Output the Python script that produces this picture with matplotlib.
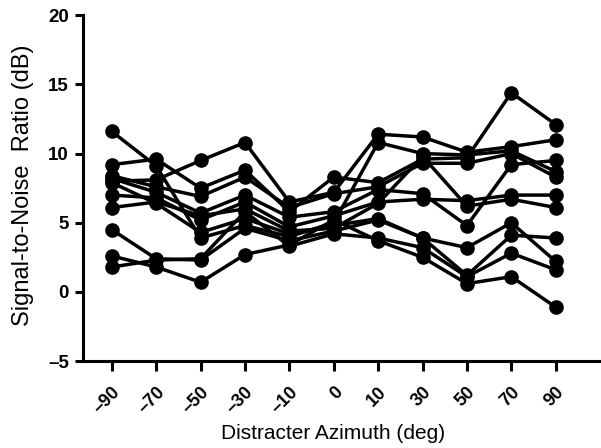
import matplotlib
matplotlib.use("Agg")
import matplotlib.pyplot as plt

azimuth_labels = ['–90', '–70', '–50', '–30', '–10', '0', '10', '30', '50', '70', '90']
y_ticks = [-5, 0, 5, 10, 15, 20]
y_tick_labels = ['–5', '0', '5', '10', '15', '20']

s1 = [8.0, 8.1, 9.5, 10.8, 6.5, 7.2, 11.4, 11.2, 10.1, 10.5, 11.0]
s2 = [11.6, 9.1, 3.9, 4.8, 4.0, 5.0, 10.8, 10.0, 9.9, 10.2, 8.7]
s3 = [9.2, 9.6, 7.5, 8.8, 5.8, 8.3, 7.9, 9.6, 9.7, 14.4, 12.1]
s4 = [8.4, 7.6, 6.9, 8.3, 6.1, 7.1, 7.6, 9.3, 9.3, 10.0, 8.3]
s5 = [8.2, 7.2, 5.7, 7.0, 5.4, 5.8, 7.4, 7.1, 4.8, 9.2, 9.5]
s6 = [7.0, 6.8, 5.2, 6.5, 4.7, 5.5, 6.5, 6.7, 6.6, 7.0, 7.0]
s7 = [6.1, 6.5, 5.5, 6.0, 4.4, 4.6, 6.4, 9.8, 6.2, 6.7, 6.1]
s8 = [7.9, 6.4, 4.3, 5.3, 4.2, 4.8, 5.3, 3.9, 3.2, 5.0, 2.2]
s9 = [4.5, 2.4, 2.3, 4.6, 3.7, 4.4, 5.2, 3.9, 1.2, 4.1, 3.9]
s10 = [1.8, 2.3, 2.4, 5.8, 3.3, 4.2, 3.9, 3.2, 1.1, 2.8, 1.6]
s11 = [2.6, 1.8, 0.7, 2.7, 3.4, 5.2, 3.7, 2.5, 0.6, 1.1, -1.1]
series = [s1, s2, s3, s4, s5, s6, s7, s8, s9, s10, s11]

plt.rcParams['font.family'] = ['Liberation Sans', 'DejaVu Sans']

fig = plt.figure(figsize=(6.01, 4.48), dpi=100)
ax = fig.add_axes([0.138, 0.194, 0.862, 0.772])

xpos = list(range(len(azimuth_labels)))
for s in series:
    ax.plot(xpos, s, color='black', linewidth=2.5, marker='o', markersize=9.5,
            markerfacecolor='black', markeredgecolor='black', clip_on=False)

ax.set_xlim(-0.65, 11.02)
ax.set_ylim(-5, 20)
ax.set_yticks(y_ticks)
ax.set_yticklabels(y_tick_labels, fontsize=13.5, fontweight='bold')
ax.set_xticks(xpos)
ax.set_xticklabels(azimuth_labels, fontsize=13, fontweight='bold', rotation=45,
                   ha='right', va='top', rotation_mode='anchor')

for side in ['top', 'right']:
    ax.spines[side].set_visible(False)
for side in ['left', 'bottom']:
    ax.spines[side].set_linewidth(2.2)

ax.tick_params(axis='y', direction='out', length=6, width=2.2, pad=4)
ax.tick_params(axis='x', direction='out', length=7, width=2.2, pad=9)

ax.set_ylabel('Signal-to-Noise  Ratio (dB)', fontsize=17)
ax.yaxis.set_label_coords(-0.094, 0.508)
ax.set_xlabel('Distracter Azimuth (deg)', fontsize=15)
ax.xaxis.set_label_coords(0.4836, -0.183)

fig.savefig('out.png', dpi=100)
